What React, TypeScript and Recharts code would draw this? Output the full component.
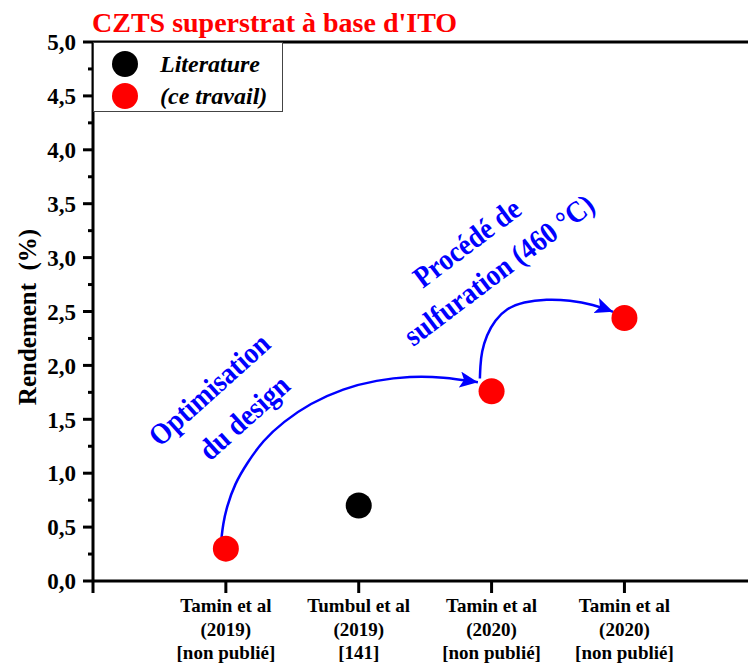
import React from 'react';
import {
  ComposedChart,
  XAxis,
  YAxis,
  Scatter,
  Line,
  Legend,
  ReferenceLine,
  Customized,
} from 'recharts';

const FONT = '"Liberation Serif", "Times New Roman", Times, serif';

// categories (one entry per x position, 3 text lines each)
const categoryLines = [
  ['Tamin et al', '(2019)', '[non publié]'],
  ['Tumbul et al', '(2019)', '[141]'],
  ['Tamin et al', '(2020)', '[non publié]'],
  ['Tamin et al', '(2020)', '[non publié]'],
];
const categoryPos = [1, 2, 3, 4];
const rendement = [0.3, 0.7, 1.76, 2.44];
const isLiterature = [false, true, false, false];

const xTicks = [0, 1, 2, 3, 4];
const yTicks = [0, 0.25, 0.5, 0.75, 1, 1.25, 1.5, 1.75, 2, 2.25, 2.5, 2.75, 3, 3.25, 3.5, 3.75, 4, 4.25, 4.5, 4.75, 5];

const legendLabels = ['Literature', '(ce travail)'];
const legendColors = ['#000000', '#ff0000'];

// curved arrows, in data units (x = category position, y = rendement)
const arrowDesignX = [0.968, 0.978, 1.006, 1.068, 1.157, 1.281, 1.432, 1.633, 1.883, 2.135, 2.385, 2.636, 2.897];
const arrowDesignY = [0.408, 0.52, 0.687, 0.904, 1.09, 1.306, 1.476, 1.647, 1.786, 1.863, 1.9, 1.893, 1.844];
const arrowSulfX = [2.912, 2.915, 2.925, 2.962, 3.025, 3.113, 3.238, 3.414, 3.589, 3.765, 3.915];
const arrowSulfY = [1.879, 1.99, 2.125, 2.28, 2.419, 2.528, 2.59, 2.615, 2.605, 2.565, 2.497];

const literatureData = categoryPos
  .map((x, i) => ({ x, y: rendement[i], lit: isLiterature[i] }))
  .filter((d) => d.lit);
const travailData = categoryPos
  .map((x, i) => ({ x, y: rendement[i], lit: isLiterature[i] }))
  .filter((d) => !d.lit);
const arrowDesign = arrowDesignX.map((x, i) => ({ x, y: arrowDesignY[i] }));
const arrowSulf = arrowSulfX.map((x, i) => ({ x, y: arrowSulfY[i] }));

const YTick = (props: any) => {
  const { x, y, payload } = props;
  const axisX = x + 17;
  const v = payload.value;
  const major = Math.abs(v * 2 - Math.round(v * 2)) < 1e-6;
  return (
    <g>
      <line x1={axisX - (major ? 10 : 5)} x2={axisX} y1={y} y2={y} stroke="#000" strokeWidth={3} />
      {major && (
        <text
          x={x}
          y={y}
          dy="0.36em"
          textAnchor="end"
          fontFamily={FONT}
          fontWeight="bold"
          fontSize={23}
          fill="#000"
        >
          {v.toFixed(1).replace('.', ',')}
        </text>
      )}
    </g>
  );
};

const XTick = (props: any) => {
  const { x, y, payload } = props;
  const lines = categoryLines[categoryPos.indexOf(payload.value)];
  if (!lines) return null;
  return (
    <text x={x} y={y} textAnchor="middle" fontFamily={FONT} fontWeight="bold" fontSize={19} fill="#000">
      {lines.map((l, i) => (
        <tspan key={i} x={x} dy={i === 0 ? 15 : 23.5}>
          {l}
        </tspan>
      ))}
    </text>
  );
};

const dotShape = (color: string) => (props: any) =>
  <circle cx={props.cx} cy={props.cy} r={13} fill={color} />;

const renderLegend = () => (
  <div
    style={{
      boxSizing: 'border-box',
      width: 190,
      height: 70,
      border: '1px solid #444',
      background: '#fff',
      paddingTop: 5,
      fontFamily: FONT,
      fontWeight: 'bold',
      fontStyle: 'italic',
      fontSize: 24,
    }}
  >
    {legendLabels.map((label, i) => (
      <div key={label} style={{ display: 'flex', alignItems: 'center', height: 32, paddingLeft: 18 }}>
        <svg width={26} height={26} style={{ marginRight: 22 }}>
          <circle cx={13} cy={13} r={13} fill={legendColors[i]} />
        </svg>
        <span>{label}</span>
      </div>
    ))}
  </div>
);

const Annotations = () => (
  <g fontFamily={FONT} fontWeight="bold">
    <defs>
      <marker
        id="arrowhead"
        markerUnits="userSpaceOnUse"
        markerWidth={20}
        markerHeight={18}
        refX={18}
        refY={8}
        orient="auto"
      >
        <path d="M0,0 L18,8 L0,16 L4,8 Z" fill="#0000ff" />
      </marker>
    </defs>
    <text x={92} y={32} fill="#ff0000" fontSize={28}>
      CZTS superstrat à base d'ITO
    </text>
    <text
      transform="translate(36,317) rotate(-90)"
      textAnchor="middle"
      fontSize={25}
      fill="#000"
      style={{ whiteSpace: 'pre' }}
    >
      {'Rendement  (%)'}
    </text>
    <g fill="#0000ff" fontSize={30} textAnchor="middle" style={{ whiteSpace: 'pre' }}>
      <text transform="translate(216,397) rotate(-42) scale(0.9,1)">Optimisation</text>
      <text transform="translate(251,425) rotate(-42) scale(0.9,1)">du design</text>
      <text transform="translate(473,251) rotate(-37) scale(0.9,1)">{'Procédé  de'}</text>
      <text transform="translate(505,278) rotate(-37) scale(0.9,1)">sulfuration (460 °C)</text>
    </g>
  </g>
);

export default function App() {
  return (
    <div style={{ position: 'absolute', left: 0, top: 0, width: 748, height: 664, background: '#fff' }}>
      <ComposedChart width={748} height={664} margin={{ top: 42, right: 0, bottom: 0, left: 0 }}>
        <XAxis
          type="number"
          dataKey="x"
          domain={[0, 4.93]}
          ticks={xTicks}
          interval={0}
          allowDataOverflow
          height={83}
          tickSize={12}
          tickMargin={4}
          tickLine={{ stroke: '#000', strokeWidth: 3 }}
          axisLine={{ stroke: '#000', strokeWidth: 3 }}
          tick={<XTick />}
        />
        <YAxis
          type="number"
          dataKey="y"
          domain={[0, 5]}
          ticks={yTicks}
          interval={0}
          allowDataOverflow
          width={93}
          tickSize={10}
          tickMargin={7}
          tickLine={false}
          axisLine={{ stroke: '#000', strokeWidth: 3 }}
          tick={<YTick />}
        />
        <ReferenceLine y={5} stroke="#000" strokeWidth={3} />
        <Customized component={Annotations} />
        <Line
          data={arrowDesign}
          dataKey="y"
          type="basis"
          stroke="#0000ff"
          strokeWidth={2.5}
          dot={false}
          activeDot={false}
          markerEnd="url(#arrowhead)"
          isAnimationActive={false}
        />
        <Line
          data={arrowSulf}
          dataKey="y"
          type="basis"
          stroke="#0000ff"
          strokeWidth={2.5}
          dot={false}
          activeDot={false}
          markerEnd="url(#arrowhead)"
          isAnimationActive={false}
        />
        <Scatter data={literatureData} dataKey="y" shape={dotShape('#000000')} isAnimationActive={false} />
        <Scatter data={travailData} dataKey="y" shape={dotShape('#ff0000')} isAnimationActive={false} />
        <Legend
          content={renderLegend}
          layout="horizontal"
          verticalAlign="middle"
          align="center"
          wrapperStyle={{ position: 'absolute', left: 93, top: 42, width: 190, height: 70 }}
        />
      </ComposedChart>
    </div>
  );
}
